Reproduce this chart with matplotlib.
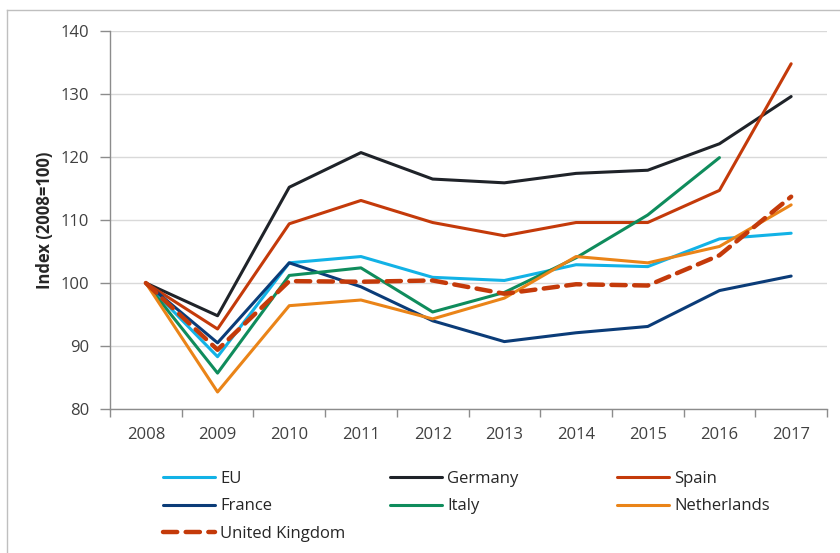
import matplotlib.pyplot as plt
from matplotlib.lines import Line2D
import numpy as np

plt.rcParams['font.family'] = ['Open Sans', 'DejaVu Sans']

# data (index, 2008 = 100)
years = [2008, 2009, 2010, 2011, 2012, 2013, 2014, 2015, 2016, 2017]
eu = [100, 88.3, 103.2, 104.2, 100.9, 100.4, 102.9, 102.6, 107.0, 107.9]
germany = [100, 94.8, 115.2, 120.7, 116.5, 115.9, 117.4, 117.9, 122.1, 129.6]
spain = [100, 92.7, 109.4, 113.1, 109.6, 107.5, 109.6, 109.6, 114.7, 134.8]
france = [100, 90.5, 103.2, 99.4, 94.0, 90.7, 92.1, 93.1, 98.8, 101.1]
italy = [100, 85.7, 101.2, 102.4, 95.4, 98.5, 104.0, 110.8, 119.9, np.nan]
netherlands = [100, 82.7, 96.4, 97.3, 94.3, 97.6, 104.2, 103.2, 105.8, 112.4]
uk = [100, 89.4, 100.3, 100.2, 100.4, 98.3, 99.8, 99.6, 104.4, 113.7]

series = [
    ('EU', eu, '#12B2E6', '-'),
    ('Germany', germany, '#1F2329', '-'),
    ('Spain', spain, '#C43A0A', '-'),
    ('France', france, '#0B3C78', '-'),
    ('Italy', italy, '#0F8C5C', '-'),
    ('Netherlands', netherlands, '#EA8418', '-'),
    ('United Kingdom', uk, '#C43A0A', '--'),
]

fig = plt.figure(figsize=(8.4, 5.53), dpi=100)
ax = fig.add_axes([110/840, 144/553, 717/840, 378/553])

handles = {}
for name, vals, col, ls in series:
    if ls == '--':
        h, = ax.plot(years, vals, color=col, lw=3.2, dashes=(3.2, 1.9),
                     dash_capstyle='round', solid_capstyle='round', label=name)
    else:
        h, = ax.plot(years, vals, color=col, lw=2.2, solid_capstyle='round', label=name)
    handles[name] = h

ax.set_xlim(2007.5, 2017.5)
ax.set_ylim(80, 140)
ax.set_yticks(range(80, 141, 10))
ax.set_xticks(years)
ax.set_xticks(np.arange(2007.5, 2018, 1), minor=True)
ax.tick_params(axis='x', which='major', length=0, pad=13, labelsize=12, labelcolor='#404040')
ax.tick_params(axis='x', which='minor', length=6, color='#8C8C8C', width=1)
ax.tick_params(axis='y', length=7, color='#8C8C8C', width=1, pad=8, labelsize=12, labelcolor='#404040')
ax.yaxis.grid(True, color='#D9D9D9', lw=1)
ax.set_axisbelow(True)
for s in ['top', 'right']:
    ax.spines[s].set_visible(False)
for s in ['left', 'bottom']:
    ax.spines[s].set_color('#8C8C8C')
    ax.spines[s].set_linewidth(1)

ax.set_ylabel('Index (2008=100)', fontsize=12, fontweight='bold', color='#262626', labelpad=5)

# legend in three columns
cols = [['EU', 'France', 'United Kingdom'], ['Germany', 'Italy'], ['Spain', 'Netherlands']]
xs = [163, 390, 617]
for names, x in zip(cols, xs):
    leg = fig.legend([handles[n] for n in names], names, loc='upper left',
                     bbox_to_anchor=(x/840, 1 - 471/553), frameon=False,
                     borderpad=0, borderaxespad=0, handlelength=3.1,
                     handletextpad=0.35, labelspacing=0.68, fontsize=12,
                     labelcolor='#262626')

# outer frame
fig.add_artist(Line2D([7/840, 7/840], [0, 1 - 9.5/553], color='#BFBFBF', lw=1))
fig.add_artist(Line2D([7/840, 1], [1 - 9.5/553, 1 - 9.5/553], color='#BFBFBF', lw=1))

fig.savefig('out.png', dpi=100)
